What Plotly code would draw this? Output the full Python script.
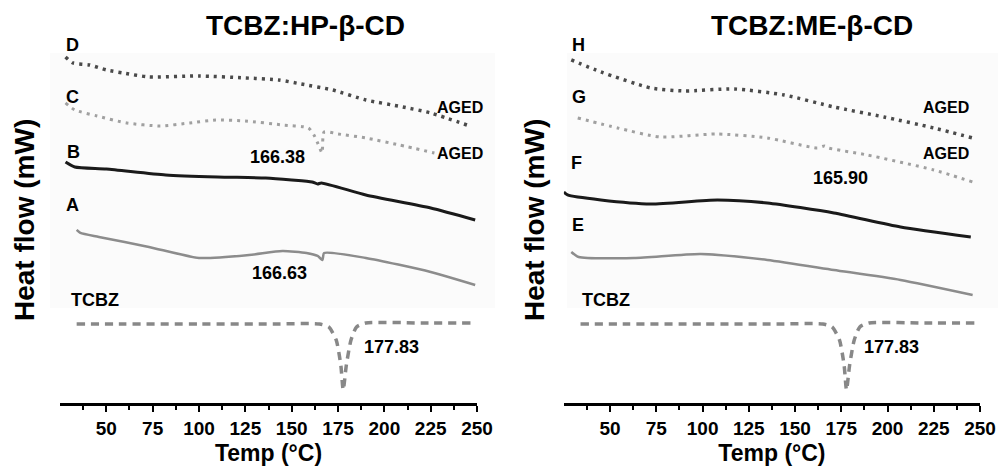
import plotly.graph_objects as go

# DSC thermograms, heat flow offsets in arbitrary mW units (stacked curves)
ticks_major = [50, 75, 100, 125, 150, 175, 200, 225, 250]
ticks_minor = [37.5, 62.5, 87.5, 112.5, 137.5, 162.5, 187.5, 212.5, 237.5]

# pure drug (same trace in both panels)
temp_tcbz = [34, 60, 100, 140, 165, 170, 174, 176.5, 177.8, 179.5, 182, 185, 190, 220, 247]
flow_tcbz = [79, 79, 79, 79, 79, 76, 63, 38, 13, 38, 63, 76, 80, 80, 80]

# TCBZ:HP-b-CD
temp_A = [34, 36, 46, 73, 100, 127, 145, 158, 164, 166.6, 167.5, 190, 225, 249]
flow_A = [173, 170, 166, 156, 145, 148, 152, 150, 147, 143, 150, 145, 131, 118]
temp_B = [28, 33, 50, 82, 110, 136, 150, 161, 164, 166, 190, 225, 249]
flow_B = [241, 236, 234, 228, 226, 225, 223, 221, 219, 220, 208, 195, 183]
temp_C = [28, 33, 45, 61, 79, 95, 109, 125, 145, 159, 162, 164, 166.4, 167.5, 175, 190, 208, 227]
flow_C = [300, 293, 287, 280, 277, 280, 283, 282, 278, 275, 268, 260, 250, 271, 269, 265, 258, 250]
temp_D = [28, 32, 41, 50, 59, 73, 100, 125, 143, 155, 172, 190, 210, 225, 246]
flow_D = [346, 340, 338, 333, 330, 326, 327, 325, 323, 319, 313, 303, 296, 290, 277]

# TCBZ:ME-b-CD
temp_E = [29, 33, 63, 99, 135, 171, 207, 246]
flow_E = [151, 146, 145, 149, 143, 133, 123, 108]
temp_F = [25, 27, 45, 72, 108, 135, 171, 207, 245]
flow_F = [211, 208, 203, 199, 203, 200, 190, 176, 166]
temp_G = [32.5, 54, 77, 108, 135, 162, 165.9, 168, 189, 225, 246]
flow_G = [285, 275, 266, 269, 265, 255, 257, 255, 248, 233, 221]
temp_H = [29, 45, 72, 90, 117, 144, 171, 198, 225, 246]
flow_H = [343, 331, 315, 312, 314, 308, 296, 286, 275, 265]

FONT = "Liberation Sans, Arial, sans-serif"

fig = go.Figure()


def add_curve(x, y, ax, color, width, dash="solid"):
    fig.add_trace(go.Scatter(
        x=x, y=y, xaxis="x" + ax, yaxis="y" + ax, mode="lines",
        line=dict(color=color, width=width, dash=dash, shape="spline", smoothing=0.6),
        showlegend=False, hoverinfo="skip"))


# left panel
add_curve(temp_D, flow_D, "", "#4a4a4a", 3.5, "3px,5px")
add_curve(temp_C, flow_C, "", "#a0a0a0", 3, "3px,5px")
add_curve(temp_B, flow_B, "", "#1a1a1a", 3)
add_curve(temp_A, flow_A, "", "#8c8c8c", 2.5)
add_curve(temp_tcbz, flow_tcbz, "", "#888888", 3.5, "8px,6px")
# right panel
add_curve(temp_H, flow_H, "2", "#4a4a4a", 3.5, "3px,5px")
add_curve(temp_G, flow_G, "2", "#a0a0a0", 3, "3px,5px")
add_curve(temp_F, flow_F, "2", "#1a1a1a", 3)
add_curve(temp_E, flow_E, "2", "#8c8c8c", 2.5)
add_curve(temp_tcbz, flow_tcbz, "2", "#888888", 3.5, "8px,6px")

xax = dict(
    range=[25, 250], showline=True, linecolor="black", linewidth=2.5,
    ticks="outside", ticklen=6, tickwidth=2, tickcolor="black",
    tickvals=ticks_major, showgrid=False, zeroline=False, automargin=False,
    tickfont=dict(family=FONT, size=19, color="black", weight="bold"),
    minor=dict(tickvals=ticks_minor, ticks="outside", ticklen=4, tickwidth=2, tickcolor="black"),
    title=dict(text="Temp (°C)", font=dict(family=FONT, size=23, color="black", weight="bold"), standoff=8),
)
yax = dict(range=[0, 363], visible=False, automargin=False)

fig.update_layout(
    width=998, height=470,
    margin=dict(l=0, r=0, t=0, b=0),
    paper_bgcolor="white", plot_bgcolor="rgba(0,0,0,0)",
    xaxis=dict(xax, domain=[0.0601, 0.478], anchor="y"),
    yaxis=dict(yax, domain=[0.1426, 0.915], anchor="x"),
    xaxis2=dict(xax, domain=[0.565, 0.982], anchor="y2"),
    yaxis2=dict(yax, domain=[0.1426, 0.915], anchor="x2"),
)

# faint backdrop of the scanned figure
for x0, x1 in [(50, 495), (567, 998)]:
    fig.add_shape(type="rect", xref="paper", yref="paper", layer="below",
                  x0=x0 / 998, x1=x1 / 998, y0=1 - 308 / 470, y1=1 - 53 / 470,
                  fillcolor="#fbfbfb", line=dict(width=0))

lab = dict(family=FONT, size=18, color="black", weight="bold")
aged = dict(family=FONT, size=16, color="black", weight="bold")
num = dict(family=FONT, size=18, color="black", weight="bold")

labels = [
    ("", "D", 32, 358, "center", lab, 0), ("", "C", 31.5, 306, "center", lab, 0),
    ("", "B", 32.5, 251, "center", lab, 0), ("", "A", 31.5, 198, "center", lab, 0),
    ("", "TCBZ", 44, 103, "center", lab, 0),
    ("", "166.38", 142.6, 246, "center", num, 0), ("", "166.63", 143.7, 130, "center", num, 0),
    ("", "177.83", 188, 56, "left", num, 0),
    ("", "AGED", 250, 295, "right", aged, 8), ("", "AGED", 250, 249, "right", aged, 8),
    ("2", "H", 33, 358, "center", lab, 0), ("2", "G", 33, 306, "center", lab, 0),
    ("2", "F", 32, 240, "center", lab, 0), ("2", "E", 32.5, 178, "center", lab, 0),
    ("2", "TCBZ", 47.6, 103, "center", lab, 0),
    ("2", "165.90", 174.5, 225, "center", num, 0),
    ("2", "177.83", 186.3, 56, "left", num, 0),
    ("2", "AGED", 245, 295, "right", aged, 0), ("2", "AGED", 245, 249, "right", aged, 0),
]
for ax, txt, x, y, anc, f, shift in labels:
    fig.add_annotation(x=x, y=y, xref="x" + ax, yref="y" + ax, text=txt, xshift=shift,
                       showarrow=False, xanchor=anc, yanchor="middle", font=f)

title_font = dict(family=FONT, size=28, color="black", weight="bold")
for cx, txt in [(305, "TCBZ:HP-β-CD"), (812, "TCBZ:ME-β-CD")]:
    fig.add_annotation(x=cx / 998, y=1 - 25 / 470, xref="paper", yref="paper", text=txt,
                       showarrow=False, xanchor="center", yanchor="middle", font=title_font)

ylab_font = dict(family=FONT, size=28, color="black", weight="bold")
for cx in [24, 534]:
    fig.add_annotation(x=cx / 998, y=1 - 220 / 470, xref="paper", yref="paper",
                       text="Heat flow (mW)", textangle=-90, showarrow=False,
                       xanchor="center", yanchor="middle", font=ylab_font)

fig.write_html("out.html", config={"displayModeBar": False},
               post_script="document.body.style.margin='0px';"
                           "document.body.style.overflow='hidden';")
